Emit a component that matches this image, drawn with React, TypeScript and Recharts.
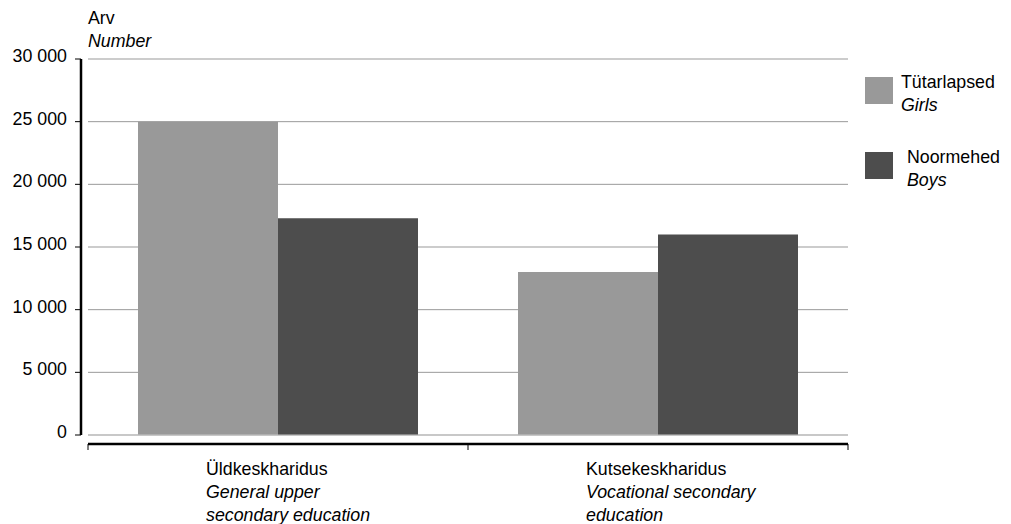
import React from 'react';
import { BarChart, Bar, XAxis, YAxis, CartesianGrid, Legend, ReferenceLine } from 'recharts';

const categoriesEt = ['Üldkeskharidus', 'Kutsekeskharidus'];
const categoriesEn = [['General upper', 'secondary education'], ['Vocational secondary', 'education']];
const girls = [25000, 13000];
const boys = [17300, 16000];
const yTicks = [0, 5000, 10000, 15000, 20000, 25000, 30000];
const seriesEt = ['Tütarlapsed', 'Noormehed'];
const seriesEn = ['Girls', 'Boys'];
const seriesColors = ['#999999', '#4d4d4d'];
const frameTicks = [0, 1, 2];

const data = categoriesEt.map((c, i) => ({ cat: c, girls: girls[i], boys: boys[i], idx: i + 0.5 }));

const FONT = 'Liberation Sans, Arial, sans-serif';
const FS = 17.8;

const fmt = (v: number) => String(v).replace(/\B(?=(\d{3})+(?!\d))/g, ' ');

const YTick = (props: any) => {
  const { x, y, payload } = props;
  return (
    <g>
      <line x1={x - 13} x2={x - 7} y1={y} y2={y} stroke="#000" strokeWidth={1} />
      <text x={x - 21} y={y + 3} textAnchor="end" fontSize={FS} fontFamily={FONT} fill="#000">
        {fmt(payload.value)}
      </text>
    </g>
  );
};

const XTick = (props: any) => {
  const { x, y, payload, index } = props;
  const i = typeof payload.index === 'number' ? payload.index : index;
  const en = categoriesEn[i] || [];
  return (
    <g>
      <text x={x - 72} y={y + 38.5} fontSize={FS} fontFamily={FONT} fill="#000">
        {payload.value}
      </text>
      {en.map((l, k) => (
        <text key={k} x={x - 72} y={y + 62 + k * 23} fontSize={FS} fontStyle="italic" fontFamily={FONT} fill="#000">
          {l}
        </text>
      ))}
    </g>
  );
};

const FrameTick = (props: any) => {
  const { x, y } = props;
  return <line x1={x} x2={x} y1={y + 9} y2={y + 15} stroke="#000" strokeWidth={1} />;
};

const textOffsets = [36, 42];

const LegendContent = () => (
  <div style={{ position: 'relative', width: 146, height: 130, fontFamily: FONT, fontSize: FS, color: '#000' }}>
    {seriesEt.map((s, i) => (
      <div key={s} style={{ position: 'absolute', left: 0, top: i * 75 }}>
        <div style={{ position: 'absolute', left: 0, top: 6, width: 28, height: 27, background: seriesColors[i] }} />
        <div style={{ position: 'absolute', left: textOffsets[i], top: 0, lineHeight: '23px', whiteSpace: 'nowrap' }}>
          <div>{s}</div>
          <div style={{ fontStyle: 'italic' }}>{seriesEn[i]}</div>
        </div>
      </div>
    ))}
  </div>
);

const TitleLabel = () => (
  <g>
    <text x={88} y={24} fontSize={FS} fontFamily={FONT} fill="#000">Arv</text>
    <text x={88} y={47} fontSize={FS} fontStyle="italic" fontFamily={FONT} fill="#000">Number</text>
  </g>
);

export default function App() {
  return (
    <div style={{ position: 'absolute', left: 0, top: 0, background: '#fff' }}>
      <BarChart
        width={1011}
        height={524}
        data={data}
        margin={{ top: 59, right: 163, left: 0, bottom: 87 }}
        barCategoryGap={50}
        barGap={0}
      >
        <CartesianGrid vertical={false} stroke="#999" strokeWidth={1} />
        <XAxis
          xAxisId={0}
          type="number"
          dataKey="idx"
          domain={[0, 2]}
          allowDataOverflow={true}
          ticks={frameTicks}
          interval={0}
          height={1}
          tickSize={0}
          tickMargin={0}
          tickLine={false}
          tick={FrameTick}
          axisLine={{ stroke: '#000', strokeWidth: 2.5, transform: 'translate(0,9)' }}
        />
        <XAxis
          xAxisId={1}
          dataKey="cat"
          height={1}
          tickSize={0}
          tickMargin={0}
          tickLine={false}
          axisLine={false}
          interval={0}
          tick={XTick}
        />
        <YAxis
          width={88}
          domain={[0, 30000]}
          ticks={yTicks}
          tickSize={0}
          tickMargin={0}
          tickLine={false}
          tick={YTick}
          axisLine={{ stroke: '#000', strokeWidth: 2.5, transform: 'translate(-7,0)' }}
          label={<TitleLabel />}
        />
        <Legend
          layout="horizontal"
          verticalAlign="middle"
          align="center"
          content={<LegendContent />}
          wrapperStyle={{ position: 'absolute', left: 865, top: 71, width: 146 }}
        />
        <ReferenceLine y={0} stroke="#c4c4c4" strokeWidth={1} xAxisId={0} />
        <Bar xAxisId={1} dataKey="girls" name={seriesEt[0]} fill={seriesColors[0]} isAnimationActive={false} />
        <Bar xAxisId={1} dataKey="boys" name={seriesEt[1]} fill={seriesColors[1]} isAnimationActive={false} />
      </BarChart>
    </div>
  );
}
